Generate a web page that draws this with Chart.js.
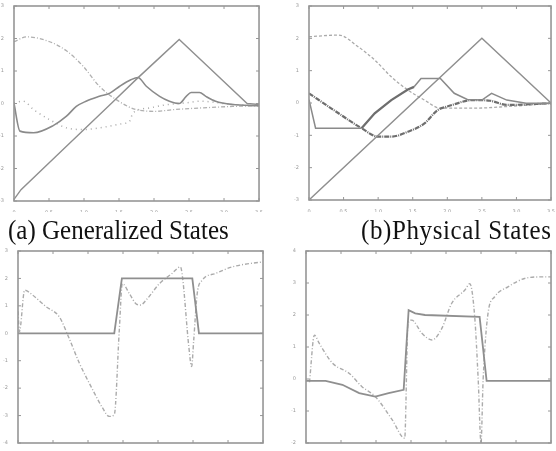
<!DOCTYPE html>
<html><head><meta charset="utf-8">
<script src="https://cdn.jsdelivr.net/npm/chart.js@4/dist/chart.umd.min.js"></script>
<style>
html,body{margin:0;padding:0;background:#fff;}
#wrap{position:relative;width:556px;height:451px;overflow:hidden;background:#fff;}
.c{position:absolute;}
.cap{position:absolute;font-family:"Liberation Serif","Times New Roman",serif;font-size:25px;line-height:25px;color:#111;white-space:nowrap;transform:scaleY(1.12);transform-origin:0 0;}
</style></head>
<body><div id="wrap">
<div class="c" style="left:0;top:0;width:264px;height:212px"><canvas id="ca"></canvas></div>
<div class="c" style="left:290px;top:0;width:266px;height:212px"><canvas id="cb"></canvas></div>
<div class="c" style="left:0;top:240px;width:268px;height:211px"><canvas id="cc"></canvas></div>
<div class="c" style="left:286px;top:240px;width:270px;height:211px"><canvas id="cd"></canvas></div>
<div class="cap" style="left:8px;top:215px">(a) Generalized States</div>
<div class="cap" style="left:361px;top:215px;letter-spacing:0.6px">(b)Physical States</div>
</div>
<script>
// shared ticks
const xTicks = [0, 0.5, 1, 1.5, 2, 2.5, 3, 3.5];
const topYTicks = [-3, -2, -1, 0, 1, 2, 3];
const cYTicks = [-4, -3, -2, -1, 0, 1, 2, 3];
const dYTicks = [-2, -1, 0, 1, 2, 3, 4];

// (a) generalized states
const aTriX = [0, 0.1, 0.6, 1.0, 1.4, 1.75, 2.1, 2.36, 2.8, 3.33, 3.5];
const aTriY = [-2.95, -2.65, -1.62, -0.8, 0.02, 0.75, 1.45, 1.97, 1.08, 0.0, -0.03];
const aBumpX = [0, 0.085, 0.28, 0.56, 0.75, 0.89, 1.03, 1.22, 1.37, 1.51, 1.67, 1.77, 1.89, 2.08, 2.22, 2.36, 2.46, 2.53, 2.65, 2.74, 2.88, 3.12, 3.5];
const aBumpY = [0, -0.85, -0.9, -0.68, -0.39, -0.09, 0.07, 0.22, 0.32, 0.53, 0.73, 0.8, 0.53, 0.22, 0.07, 0.0, 0.22, 0.34, 0.34, 0.22, 0.07, -0.03, -0.07];
const aArchX = [0, 0.18, 0.51, 0.75, 0.99, 1.22, 1.46, 1.75, 2.03, 2.27, 2.65, 3.12, 3.5];
const aArchY = [1.9, 2.05, 1.9, 1.62, 1.14, 0.53, 0.12, -0.19, -0.24, -0.19, -0.14, -0.09, -0.07];
const aDotX = [0, 0.13, 0.28, 0.51, 0.75, 0.99, 1.22, 1.55, 1.65, 1.7, 1.93, 2.17, 2.46, 2.65, 3.12, 3.5];
const aDotY = [0.02, 0.07, -0.19, -0.5, -0.75, -0.8, -0.75, -0.62, -0.55, -0.29, -0.14, -0.04, 0.02, 0.07, -0.03, -0.07];

// (b) physical states
const bTriX = [0, 2.5, 3.5];
const bTriY = [-3, 2, 0];
const bSolidX = [0, 0.095, 0.76, 0.95, 1.19, 1.43, 1.52, 1.62, 1.9, 2.1, 2.29, 2.5, 2.64, 2.86, 3.14, 3.5];
const bSolidY = [0.1, -0.78, -0.78, -0.32, 0.09, 0.42, 0.5, 0.76, 0.76, 0.3, 0.11, 0.09, 0.3, 0.09, -0.01, -0.01];
const bBoldX = [0, 0.38, 0.76, 1.0, 1.19, 1.43, 1.67, 1.86, 2.0, 2.38, 2.62, 2.86, 3.5];
const bBoldY = [0.3, -0.25, -0.78, -1.04, -1.04, -0.89, -0.63, -0.22, -0.11, 0.09, 0.07, -0.06, -0.01];
const bArchX = [0, 0.43, 0.71, 0.95, 1.19, 1.43, 1.67, 1.9, 2.38, 2.86, 3.5];
const bArchY = [2.05, 2.1, 1.74, 1.33, 0.81, 0.4, 0.09, -0.16, -0.16, -0.11, -0.01];

// (c) lower left
const cSolidX = [0, 1.375, 1.484, 2.49, 2.585, 3.5];
const cSolidY = [0, 0, 2, 2, 0, 0];
const cDashX = [0, 0.02, 0.095, 0.21, 0.4, 0.59, 0.71, 0.877, 1.067, 1.21, 1.30, 1.375, 1.447, 1.49, 1.59, 1.68, 1.75, 1.83, 2.02, 2.2, 2.32, 2.35, 2.44, 2.48, 2.51, 2.56, 2.63, 2.82, 3.06, 3.3, 3.5];
const cDashY = [0.8, 0.06, 1.57, 1.39, 0.97, 0.6, -0.06, -1.09, -2.06, -2.73, -3.03, -2.97, 0.12, 1.81, 1.45, 1.09, 1.03, 1.21, 1.81, 2.18, 2.42, 2.05, -0.49, -1.21, -0.25, 1.45, 1.93, 2.18, 2.42, 2.54, 2.6];

// (d) lower right
const dSolidX = [0, 0.28, 0.52, 0.76, 0.99, 1.18, 1.395, 1.466, 1.56, 1.70, 2.48, 2.58, 3.5];
const dSolidY = [-0.06, -0.06, -0.18, -0.44, -0.55, -0.44, -0.34, 2.15, 2.05, 2.0, 1.94, -0.06, -0.06];
const dDashX = [0.05, 0.12, 0.19, 0.38, 0.615, 0.80, 0.99, 1.23, 1.41, 1.457, 1.51, 1.655, 1.8, 1.94, 2.08, 2.27, 2.34, 2.41, 2.46, 2.50, 2.53, 2.6, 2.695, 2.885, 3.12, 3.36, 3.5];
const dDashY = [-0.1, 1.37, 1.11, 0.49, 0.18, -0.24, -0.55, -1.27, -1.85, 1.74, 1.84, 1.43, 1.22, 1.58, 2.36, 2.78, 2.98, 1.94, -0.03, -2.0, -0.03, 2.05, 2.57, 2.88, 3.14, 3.19, 3.19];

const pts = (xs, ys) => xs.map((x, i) => ({x: x, y: ys[i]}));

const framePlugin = {
  id: 'frame',
  afterDraw(chart) {
    const ctx = chart.ctx, a = chart.chartArea, sx = chart.scales.x, sy = chart.scales.y;
    ctx.save();
    ctx.strokeStyle = '#969696';
    ctx.lineWidth = 1.6;
    ctx.strokeRect(a.left, a.top, a.right - a.left, a.bottom - a.top);
    ctx.lineWidth = 1;
    ctx.beginPath();
    sx.ticks.forEach(t => {
      const p = sx.getPixelForValue(t.value);
      ctx.moveTo(p, a.bottom); ctx.lineTo(p, a.bottom - 3);
      ctx.moveTo(p, a.top); ctx.lineTo(p, a.top + 3);
    });
    sy.ticks.forEach(t => {
      const p = sy.getPixelForValue(t.value);
      ctx.moveTo(a.left, p); ctx.lineTo(a.left + 3, p);
      ctx.moveTo(a.right, p); ctx.lineTo(a.right - 3, p);
    });
    ctx.stroke();
    ctx.restore();
  }
};

function ds(data, color, width, dash, mono) {
  return {data: data, borderColor: color, borderWidth: width, borderDash: dash || [],
    pointRadius: 0, fill: false, tension: mono ? 0.4 : 0,
    cubicInterpolationMode: mono ? 'monotone' : 'default'};
}

function make(id, datasets, yTicks, yW, xH, pad) {
  const tickFont = {size: 5, family: 'DejaVu Sans'};
  new Chart(document.getElementById(id), {
    type: 'line',
    data: {datasets: datasets},
    plugins: [framePlugin],
    options: {
      responsive: true, maintainAspectRatio: false, animation: false,
      layout: {padding: pad},
      plugins: {legend: {display: false}, tooltip: {enabled: false}},
      scales: {
        x: {type: 'linear', min: xTicks[0], max: xTicks[xTicks.length - 1],
          afterBuildTicks: s => { s.ticks = xTicks.map(v => ({value: v})); },
          afterFit: s => { s.height = xH; },
          grid: {display: false}, border: {display: false},
          ticks: {font: tickFont, color: '#9a9a9a', padding: 1, maxRotation: 0, autoSkip: false}},
        y: {type: 'linear', min: yTicks[0], max: yTicks[yTicks.length - 1],
          afterBuildTicks: s => { s.ticks = yTicks.map(v => ({value: v})); },
          afterFit: s => { s.width = yW; },
          grid: {display: false}, border: {display: false},
          ticks: {font: tickFont, color: '#9a9a9a', padding: 2, autoSkip: false}}
      }
    }
  });
}

make('ca', [
  ds(pts(aTriX, aTriY), '#8f8f8f', 1.4),
  ds(pts(aBumpX, aBumpY), '#8a8a8a', 1.6, [], true),
  ds(pts(aArchX, aArchY), '#b0b0b0', 1.3, [4, 2, 1, 2], true),
  ds(pts(aDotX, aDotY), '#a8a8a8', 1.5, [1, 4], true)
], topYTicks, 14, 11, {top: 6, right: 4, left: 0, bottom: 0});

const bSolid = ds(pts(bSolidX, bSolidY), '#8a8a8a', 1.5);
bSolid.segment = {
  borderWidth: c => (c.p0.parsed.x >= 0.75 && c.p1.parsed.x <= 1.53) ? 2.3 : 1.5,
  borderColor: c => (c.p0.parsed.x >= 0.75 && c.p1.parsed.x <= 1.53) ? '#6e6e6e' : '#8a8a8a'
};
make('cb', [
  ds(pts(bTriX, bTriY), '#8f8f8f', 1.4),
  bSolid,
  ds(pts(bBoldX, bBoldY), '#6e6e6e', 2.2, [5, 1, 1, 1], true),
  ds(pts(bArchX, bArchY), '#aaaaaa', 1.3, [3, 2], true)
], topYTicks, 19, 12, {top: 6, right: 2, left: 0, bottom: 0});

make('cc', [
  ds(pts(cSolidX, cSolidY), '#8f8f8f', 1.8),
  ds(pts(cDashX, cDashY), '#ababab', 1.4, [4, 2, 1, 2], true)
], cYTicks, 18, 8, {top: 11, right: 4, left: 0, bottom: 0});

make('cd', [
  ds(pts(dSolidX, dSolidY), '#8f8f8f', 1.8),
  ds(pts(dDashX, dDashY), '#ababab', 1.4, [4, 2, 1, 2], true)
], dYTicks, 20, 8, {top: 11, right: 3, left: 0, bottom: 0});
</script>
</body></html>
